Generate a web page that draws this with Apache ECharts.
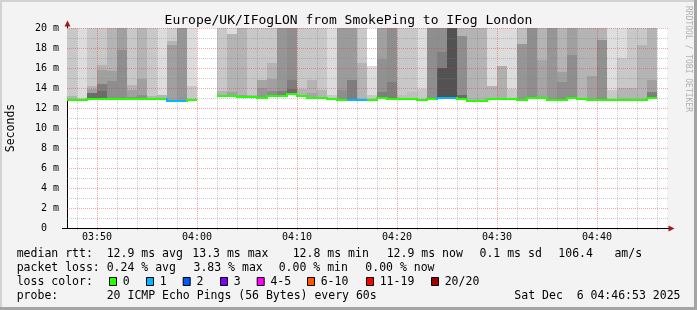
<!DOCTYPE html>
<html>
<head>
<meta charset="utf-8">
<script src="https://cdn.jsdelivr.net/npm/echarts@6/dist/echarts.min.js"></script>
<style>
html,body{margin:0;padding:0;background:#f3f3f3;}
#chart{width:697px;height:310px;}
</style>
</head>
<body>
<div id="chart"></div>
<script>
// ---- data ----
const titleText = 'Europe/UK/IFogLON from SmokePing to IFog London';
const times = ['03:47','03:48','03:49','03:50','03:51','03:52','03:53','03:54','03:55','03:56',
  '03:57','03:58','03:59','04:00','04:01','04:02','04:03','04:04','04:05','04:06',
  '04:07','04:08','04:09','04:10','04:11','04:12','04:13','04:14','04:15','04:16',
  '04:17','04:18','04:19','04:20','04:21','04:22','04:23','04:24','04:25','04:26',
  '04:27','04:28','04:29','04:30','04:31','04:32','04:33','04:34','04:35','04:36',
  '04:37','04:38','04:39','04:40','04:41','04:42','04:43','04:44','04:45'];
const axisStart = '03:47';
const axisEnd = '04:47';
const xMajor = ['03:50','04:00','04:10','04:20','04:30','04:40'];
const xMinor = ['03:48','03:52','03:54','03:56','03:58','04:02','04:04','04:06','04:08','04:12','04:14','04:16','04:18',
  '04:22','04:24','04:26','04:28','04:32','04:34','04:36','04:38','04:42','04:44','04:46'];
const yMajor = [2,4,6,8,10,12,14,16,18,20];
const yMinor = [1,3,5,7,9,11,13,15,17,19];

// median rtt (ms) per minute
const median = [12.85,12.8,12.9,12.9,12.9,12.9,12.9,12.9,12.9,12.9,
  12.75,12.75,12.8,null,null,13.25,13.25,13.1,13.1,13.0,
  13.2,13.2,13.4,13.2,13.05,13.05,12.9,12.85,12.85,12.85,
  12.85,13.0,12.95,12.95,12.95,12.85,12.9,13.0,13.0,12.95,
  12.75,12.75,12.9,12.9,12.9,12.8,13.0,13.0,12.8,12.8,
  13.0,12.95,12.8,12.85,12.8,12.8,12.8,12.8,13.0];
// lost pings (of 20) per minute
const loss = [0,0,0,0,0,0,0,0,0,0, 1,1,0,null,null,0,0,0,0,0,
  0,0,0,0,0,0,0,0,1,1, 0,0,0,0,0,0,0,1,1,0,
  0,0,0,0,0,0,0,0,0,0, 0,0,0,0,0,0,0,0,0];
// lowest and highest ping (ms)
const smokeLow = [12.75,12.7,12.8,12.8,12.8,12.8,12.8,12.8,12.8,12.8,
  12.65,12.65,12.7,null,null,13.15,13.15,13.0,13.0,12.9,
  13.1,13.1,13.3,13.1,12.95,12.95,12.8,12.75,12.75,12.75,
  12.75,12.9,12.85,12.85,12.85,12.75,12.8,12.9,12.9,12.85,
  12.65,12.65,12.8,12.8,12.8,12.7,12.9,12.9,12.7,12.7,
  12.9,12.85,12.7,12.75,12.7,12.7,12.7,12.7,12.9];
const smokeHigh = [21,21,21,21,21,21,21,21,21,21, 21,21,21,null,null,21,21,21,21,21,
  21,21,21,21,21,21,21,21,21,21, 16.2,21,21,21,21,21,21,21,21,21,
  21,21,21,21,21,21,21,21,21,21, 21,21,21,21,21,21,21,21,21];
// smoke band edges (ms) and grey levels, bottom-up
const edgeA = [13.2,13.0,13.5,13.7,14.7,17.8,13.1,13.3,13.2,13.3,
  18.3,null,14.2,null,null,13.7,13.6,13.3,13.3,14.0,
  13.7,13.7,13.9,13.9,13.5,13.8,13.3,13.8,14.8,16.5,
  13.3,13.6,14.6,13.3,13.6,13.9,13.0,16.0,null,13.3,
  null,null,14.2,16.2,13.9,18.4,null,16.8,null,14.6,
  17.3,null,15.2,18.8,13.8,14.0,14.0,18.3,13.6];
const greyA = [180,200,108,108,142,142,142,142,180,180,
  160,null,200,null,null,180,160,160,180,150,
  140,126,108,180,165,180,200,142,126,180,
  200,126,126,190,190,200,130,82,null,108,
  null,null,180,175,200,150,null,165,null,142,
  142,null,160,145,200,180,180,180,126];
const edgeB = [null,null,13.9,14.4,15.7,null,13.8,14.9,null,null,
  18.7,null,null,null,null,null,19.4,null,null,14.8,
  14.9,null,14.8,null,14.8,null,null,null,null,null,
  null,16.9,null,null,null,null,null,17.6,null,19.2,
  null,null,null,null,null,null,null,null,null,15.6,
  null,null,null,null,null,17.0,null,null,14.8];
const greyB = [null,null,160,126,160,null,160,160,null,null,
  180,null,null,null,null,null,180,null,null,165,
  160,null,126,null,180,null,null,null,null,null,
  null,145,null,null,null,null,null,126,null,142,
  null,null,null,null,null,null,null,null,null,160,
  null,null,null,null,null,200,null,null,160];
const edgeC = [null,null,14.2,15.8,null,null,14.3,null,null,null,
  null,null,null,null,null,null,null,null,null,null,
  16.5,null,null,null,null,null,null,null,null,null,
  null,null,null,null,null,null,null,null,null,null,
  null,null,null,null,null,null,null,null,null,null,
  null,null,null,null,null,null,null,null,null];
const greyC = [null,null,180,160,null,null,180,null,null,null,
  null,null,null,null,null,null,null,null,null,null,
  180,null,null,null,null,null,null,null,null,null,
  null,null,null,null,null,null,null,null,null,null,
  null,null,null,null,null,null,null,null,null,null,
  null,null,null,null,null,null,null,null,null];
const edgeD = [null,null,null,16.3,null,null,null,null,null,null,
  null,null,null,null,null,null,null,null,null,null,
  null,null,null,null,null,null,null,null,null,null,
  null,null,null,null,null,null,null,null,null,null,
  null,null,null,null,null,null,null,null,null,null,
  null,null,null,null,null,null,null,null,null];
const greyD = [null,null,null,180,null,null,null,null,null,null,
  null,null,null,null,null,null,null,null,null,null,
  null,null,null,null,null,null,null,null,null,null,
  null,null,null,null,null,null,null,null,null,null,
  null,null,null,null,null,null,null,null,null,null,
  null,null,null,null,null,null,null,null,null];
const greyTop = [200,220,200,200,180,160,200,180,200,220,
  205,150,220,null,null,200,220,180,200,200,
  200,150,142,200,200,200,220,155,155,200,
  220,160,142,200,200,220,142,142,82,180,
  180,180,220,220,220,190,142,180,150,180,
  160,180,180,180,222,220,200,200,180];

const lossLabels = ['0','1','2','3','4-5','6-10','11-19','20/20'];
const lossColors = ['#26ff00','#00b8ff','#0059ff','#7e00ff','#ff00ff','#ff5500','#ff0000','#a10000'];
const lossBoxX = [109,146,182.7,220,256.7,307,366,431];

const rttLabel = 'median rtt:';
const rttStats = ['12.9 ms avg','13.3 ms max','12.8 ms min','12.9 ms now','0.1 ms sd','106.4','am/s'];
const rttX = [106.7,192.3,292.7,386.7,479.5,558.3,614.4];
const lossLabel = 'packet loss:';
const lossStats = ['0.24 % avg','3.83 % max','0.00 % min','0.00 % now'];
const lossX = [106.7,193.5,278.7,365.3];
const colorLabel = 'loss color:';
const probeLabel = 'probe:';
const probeText = '20 ICMP Echo Pings (56 Bytes) every 60s';
const stampText = 'Sat Dec  6 04:46:53 2025';
const sideText = 'RRDTOOL / TOBI OETIKER';

// ---- helpers ----
const FONT = "'DejaVu Sans Mono', monospace";
const toMin = s => parseInt(s.slice(0,2),10)*60 + parseInt(s.slice(3),10);
const fmtMin = m => String(Math.floor(m/60)).padStart(2,'0') + ':' + String(m%60).padStart(2,'0');
const grey = g => 'rgb(' + g + ',' + g + ',' + g + ')';
const bucket = n => n === 0 ? 0 : n === 1 ? 1 : n === 2 ? 2 : n === 3 ? 3 : n <= 5 ? 4 : n <= 10 ? 5 : n <= 19 ? 6 : 7;
const X0 = toMin(axisStart), X1 = toMin(axisEnd);
const YMAX = 20;

const colData = times.map((t, i) => [toMin(t), 0, i]);

function smokeItem(params, api) {
  const i = api.value(2);
  if (median[i] == null) return null;
  const t = api.value(0);
  const xa = Math.round(api.coord([t, 0])[0]);
  const xb = Math.round(api.coord([t + 1, 0])[0]);
  const yAt = v => Math.round(api.coord([t, Math.min(v, YMAX)])[1]);
  const children = [];
  let lo = smokeLow[i];
  const layers = [[edgeA, greyA], [edgeB, greyB], [edgeC, greyC], [edgeD, greyD]];
  const addBand = (a, b, g) => {
    const ya = yAt(a), yb = yAt(b);
    if (ya - yb <= 0) return;
    children.push({type: 'rect', shape: {x: xa, y: yb, width: xb - xa, height: ya - yb}, style: {fill: grey(g)}});
  };
  layers.forEach(([e, g]) => {
    if (e[i] != null) { addBand(lo, e[i], g[i]); lo = e[i]; }
  });
  addBand(lo, smokeHigh[i], greyTop[i]);
  return {type: 'group', children};
}

function medianItem(params, api) {
  const i = api.value(2);
  if (median[i] == null) return null;
  const t = api.value(0);
  const xa = Math.round(api.coord([t, 0])[0]);
  const xb = Math.round(api.coord([t + 1, 0])[0]);
  const y = Math.round(api.coord([t, median[i]])[1]);
  const color = lossColors[bucket(loss[i])];
  const children = [{type: 'rect', shape: {x: xa, y: y - 1, width: xb - xa, height: 2}, style: {fill: color}}];
  if (i > 0 && median[i - 1] != null) {
    const yp = Math.round(api.coord([t, median[i - 1]])[1]);
    if (yp !== y) {
      children.push({type: 'rect', shape: {x: xa - 1, y: Math.min(y, yp) - 1, width: 2, height: Math.abs(y - yp) + 2}, style: {fill: color}});
    }
  }
  return {type: 'group', children};
}

const MAJOR = 'rgba(235,50,50,0.42)';
const MINOR = 'rgba(130,130,130,0.42)';

const hGridData = yMajor.map(v => [X0, v, 1]).concat(yMinor.map(v => [X0, v, 0]));
const vGridData = xMajor.map(s => [toMin(s), 0, 1]).concat(xMinor.map(s => [toMin(s), 0, 0]));

function hGridItem(params, api) {
  const v = api.value(1);
  const p0 = api.coord([X0, v]), p1 = api.coord([X1, v]);
  const y = Math.round(p0[1]) + 0.5;
  return {type: 'line', shape: {x1: Math.round(p0[0]), y1: y, x2: Math.round(p1[0]) + 1, y2: y},
    style: {stroke: api.value(2) ? MAJOR : MINOR, lineWidth: 1, lineDash: [1, 1]}};
}
function vGridItem(params, api) {
  const t = api.value(0);
  const p0 = api.coord([t, 0]), p1 = api.coord([t, YMAX]);
  const x = Math.round(p0[0]) + 0.5;
  return {type: 'line', shape: {x1: x, y1: Math.round(p0[1]) + 2, x2: x, y2: Math.round(p1[1])},
    style: {stroke: api.value(2) ? MAJOR : MINOR, lineWidth: 1, lineDash: [1, 1]}};
}

// ---- legend / decoration graphics ----
const txt = (text, x, y, extra) => Object.assign({type: 'text', style: Object.assign({
  text, x, y, font: '11.5px ' + FONT, fill: '#000', verticalAlign: 'middle', align: 'left'}, extra || {})}, {silent: true});
const graphics = [];
graphics.push({type: 'rect', shape: {x: 0, y: 0, width: 697, height: 2}, style: {fill: '#d2d2d2'}});
graphics.push({type: 'rect', shape: {x: 0, y: 0, width: 2, height: 310}, style: {fill: '#d2d2d2'}});
graphics.push({type: 'rect', shape: {x: 694, y: 0, width: 3, height: 310}, style: {fill: '#a4a4a4'}});
graphics.push({type: 'rect', shape: {x: 0, y: 307, width: 697, height: 3}, style: {fill: '#a4a4a4'}});
// axis extensions and arrows
graphics.push({type: 'line', shape: {x1: 62, y1: 228.5, x2: 67, y2: 228.5}, style: {stroke: '#000', lineWidth: 1}});
graphics.push({type: 'line', shape: {x1: 667, y1: 228.5, x2: 669, y2: 228.5}, style: {stroke: '#000', lineWidth: 1}});
graphics.push({type: 'line', shape: {x1: 67.5, y1: 25, x2: 67.5, y2: 29}, style: {stroke: '#000', lineWidth: 1}});
graphics.push({type: 'polygon', shape: {points: [[67.5, 20.5], [64.5, 26.5], [70.5, 26.5]]}, style: {fill: '#9c1c1c'}});
graphics.push({type: 'polygon', shape: {points: [[674.5, 228.5], [668.5, 225.5], [668.5, 231.5]]}, style: {fill: '#9c1c1c'}});
// side text
graphics.push({type: 'text', x: 688, y: 59, rotation: -Math.PI / 2, style: {
  text: sideText, x: 0, y: 0, font: '8px ' + FONT, fill: '#b0b0b0', align: 'center', verticalAlign: 'middle'}});
// legend lines
const L1 = 254, L2 = 268, L3 = 282, L4 = 296, LX = 16.7;
graphics.push(txt(rttLabel, LX, L1));
rttStats.forEach((s, k) => graphics.push(txt(s, rttX[k], L1)));
graphics.push(txt(lossLabel, LX, L2));
lossStats.forEach((s, k) => graphics.push(txt(s, lossX[k], L2)));
graphics.push(txt(colorLabel, LX, L3));
lossLabels.forEach((s, k) => {
  graphics.push({type: 'rect', shape: {x: lossBoxX[k] + 0.5, y: L3 - 4.5, width: 7, height: 8},
    style: {fill: lossColors[k], stroke: '#000', lineWidth: 1}});
  graphics.push(txt(s, lossBoxX[k] + 13.7, L3));
});
graphics.push(txt(probeLabel, LX, L4));
graphics.push(txt(probeText, 106.7, L4));
graphics.push(txt(stampText, 680.5, L4, {align: 'right'}));

const chart = echarts.init(document.getElementById('chart'), null, {renderer: 'canvas'});
chart.setOption({
  animation: false,
  backgroundColor: '#f3f3f3',
  title: {text: titleText, left: 'center', top: 14, padding: 0,
    textStyle: {fontFamily: FONT, fontSize: 13, fontWeight: 'normal', color: '#000', lineHeight: 14}},
  grid: {show: true, left: 67, top: 28, width: 600, height: 200, backgroundColor: '#ffffff', borderWidth: 0,
    containLabel: false, outerBoundsMode: 'none'},
  xAxis: {
    type: 'value', min: X0, max: X1,
    axisLine: {show: true, lineStyle: {color: '#000', width: 1}},
    axisTick: {show: false},
    splitLine: {show: false},
    axisLabel: {
      customValues: xMajor.map(toMin),
      formatter: v => (v % 10 === 0 ? fmtMin(v) : ''),
      fontFamily: FONT, fontSize: 10, color: '#000', margin: 4
    }
  },
  yAxis: {
    type: 'value', min: 0, max: YMAX, interval: 2,
    name: 'Seconds', nameLocation: 'middle', nameRotate: 90, nameGap: 50,
    nameTextStyle: {fontFamily: FONT, fontSize: 11.5, color: '#000'},
    axisLine: {show: true, lineStyle: {color: '#000', width: 1}},
    axisTick: {show: false},
    splitLine: {show: false},
    axisLabel: {formatter: v => (v === 0 ? '0  ' : v + ' m'), fontFamily: FONT, fontSize: 10, color: '#000', margin: 8}
  },
  graphic: graphics,
  series: [
    {type: 'custom', name: 'smoke', z: 2, data: colData, dimensions: ['t', 'v', 'idx'], encode: {x: 0, y: 1}, renderItem: smokeItem, silent: true},
    {type: 'custom', name: 'hgrid', z: 3, data: hGridData, dimensions: ['t', 'v', 'major'], encode: {x: 0, y: 1}, renderItem: hGridItem, silent: true},
    {type: 'custom', name: 'vgrid', z: 3, data: vGridData, dimensions: ['t', 'v', 'major'], encode: {x: 0, y: 1}, renderItem: vGridItem, silent: true},
    {type: 'custom', name: 'median', z: 4, data: colData, dimensions: ['t', 'v', 'idx'], encode: {x: 0, y: 1}, renderItem: medianItem, silent: true}
  ]
});
</script>
</body>
</html>
